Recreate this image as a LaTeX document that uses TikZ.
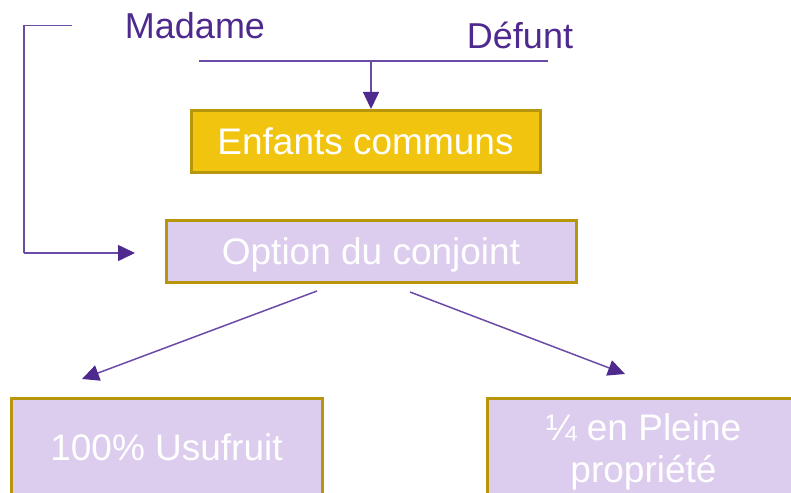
\documentclass[tikz,border=0pt]{standalone}
\usepackage{fontspec}
\setmainfont{Liberation Sans}
\usetikzlibrary{arrows.meta}
\definecolor{goldfill}{HTML}{F1C40F}
\definecolor{goldline}{HTML}{B8960B}
\definecolor{lav}{HTML}{DCCDEE}
\definecolor{purp}{HTML}{4E2A8E}
\definecolor{purpline}{HTML}{6A4BA6}
\tikzset{
  box/.style={draw=goldline, line width=3pt, inner sep=0pt, text=white,
    font=\fontsize{37}{42}\selectfont, align=center, text height=27pt, text depth=0pt},
  wtxt/.style={anchor=base, text=white, font=\fontsize{37}{42}\selectfont, inner sep=0pt},
  lbl/.style={text=purp, font=\fontsize{36}{42}\selectfont, inner sep=0pt},
  conn/.style={draw=purpline, line width=1.5pt},
  arr/.style={conn, -{Triangle[length=17pt,width=16pt,fill=purp,color=purp]}}
}
\begin{document}
\begin{tikzpicture}[x=1pt,y=-1pt]
\useasboundingbox (0,0) rectangle (791,492);
\clip (0,0) rectangle (791,492);
% labels
\node[lbl] (madame) at (195,26) {Madame};
\node[lbl] (defunt) at (520,35) {Défunt};
% boxes
\node[box, fill=goldfill, minimum width=349pt, minimum height=62pt] (enf) at (365.5,141) {Enfants communs};
\node[box, fill=lav, minimum width=410pt, minimum height=62pt] (opt) at (371,251) {Option du conjoint};
\node[box, fill=lav, minimum width=311pt, minimum height=110pt] (usu) at (166.5,453) {};
\node[wtxt] (usut) at (166.5,460) {100\% Usufruit};
\node[box, fill=lav, minimum width=313pt, minimum height=110pt] (pp) at (643.5,453) {};
\node[wtxt] (pp1) at (643.5,440) {¼ en Pleine};
\node[wtxt] (pp2) at (643.5,482) {propriété};
% coordinates
\coordinate (ml) at (72,25.5);
\coordinate (mc) at (24,25.5);
\coordinate (mb) at (24,253);
\coordinate (mt) at (135,253);
\coordinate (dl) at (199,61);
\coordinate (dr) at (548,61);
\coordinate (dv) at (371,61);
\coordinate (dt) at (371,109);
\coordinate (a1s) at (317,291);
\coordinate (a1t) at (82,379);
\coordinate (a2s) at (410,292);
\coordinate (a2t) at (625,374);
% connectors
\draw[conn] (ml) -- (mc) -- (mb);
\draw[arr] (mb) -- (mt);
\draw[conn] (dl) -- (dr);
\draw[arr] (dv) -- (dt);
\draw[arr] (a1s) -- (a1t);
\draw[arr] (a2s) -- (a2t);
\end{tikzpicture}
\end{document}
